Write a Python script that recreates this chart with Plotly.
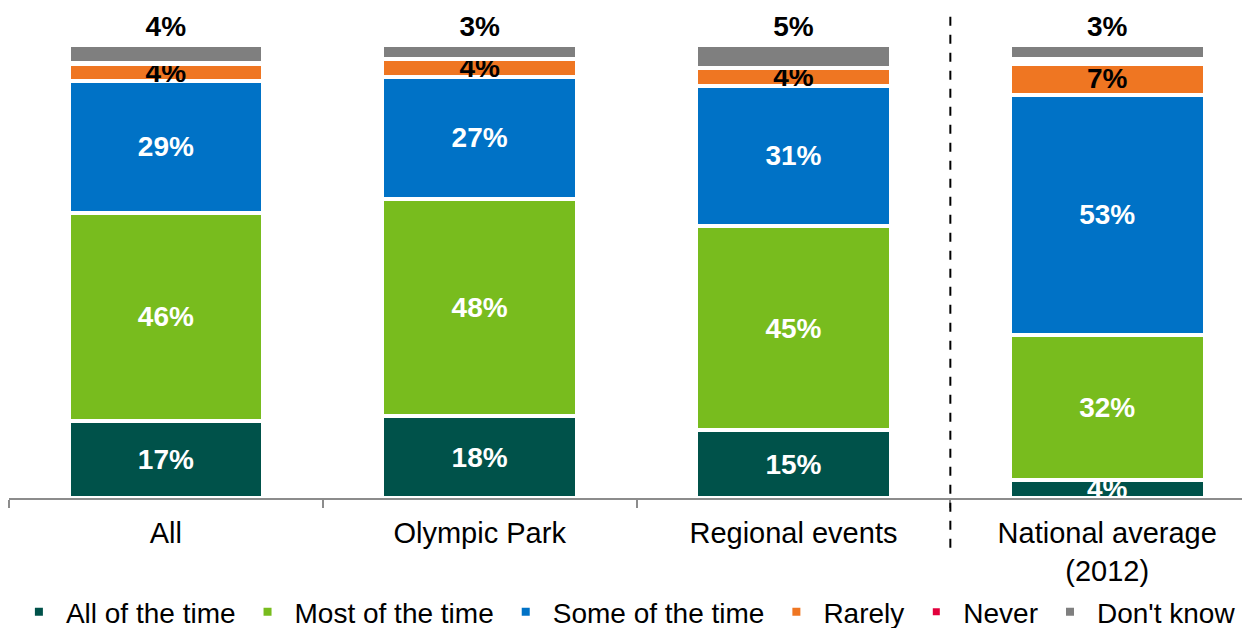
import plotly.graph_objects as go

categories = ["All", "Olympic Park", "Regional events", "National average<br>(2012)"]
series_names = ["All of the time", "Most of the time", "Some of the time", "Rarely", "Never", "Don't know"]
all_of_the_time = [17, 18, 15, 4]
most_of_the_time = [46, 48, 45, 32]
some_of_the_time = [29, 27, 31, 53]
rarely = [4, 4, 4, 7]
never = [0, 0, 0, 1]
dont_know = [4, 3, 5, 3]

values = [all_of_the_time, most_of_the_time, some_of_the_time, rarely, never, dont_know]
colors = ["#00524A", "#78BC1E", "#0072C6", "#EF7622", "#E2003C", "#7F7F7F"]
text_colors = ["white", "white", "white", "black", "black", "black"]
positions = ["inside", "inside", "inside", "inside", "none", "outside"]
line_widths = [4, 4, 4, 4, 5, 4]

FONT = "Liberation Sans, Arial, sans-serif"

fig = go.Figure()
for name, vals, col, tcol, pos, lw in zip(series_names, values, colors, text_colors, positions, line_widths):
    tf = dict(color=tcol, size=28, family=FONT, weight="bold")
    fig.add_trace(go.Bar(
        x=categories,
        y=vals,
        name=name,
        marker=dict(color=col, line=dict(color="white", width=lw)),
        width=0.62,
        text=[f"{v}%" for v in vals] if pos != "none" else None,
        textposition=pos,
        insidetextanchor="middle",
        textangle=0,
        constraintext="none",
        cliponaxis=False,
        textfont=tf, outsidetextfont=tf, insidetextfont=tf,
        hoverinfo="skip",
    ))

fig.add_shape(type="line", xref="x", yref="paper", x0=2.5, x1=2.5, y0=-0.11, y1=1.099,
              line=dict(color="black", width=2, dash="dash"))

fig.update_layout(
    width=1250, height=628,
    barmode="stack",
    plot_bgcolor="white", paper_bgcolor="white",
    margin=dict(l=1, r=8, t=37, b=138),
    font=dict(family=FONT, size=28, color="black"),
    showlegend=True,
    legend=dict(orientation="h", x=0.4975, xanchor="center",
                yref="container", y=0.038, yanchor="middle", itemwidth=44,
                font=dict(size=28, family=FONT), traceorder="normal"),
    xaxis=dict(
        type="category", categoryorder="array", categoryarray=categories,
        range=[-0.5, 3.455], showline=True, linecolor="#8C8C8C", linewidth=2,
        ticks="outside", tickson="boundaries", ticklen=8, tickcolor="#8C8C8C", tickwidth=2,
        showgrid=False, zeroline=False, automargin=False, ticklabelstandoff=8,
        tickfont=dict(size=29, family=FONT),
    ),
    yaxis=dict(range=[0, 100], visible=False, showgrid=False, zeroline=False),
)

fig.write_html("out.html")
